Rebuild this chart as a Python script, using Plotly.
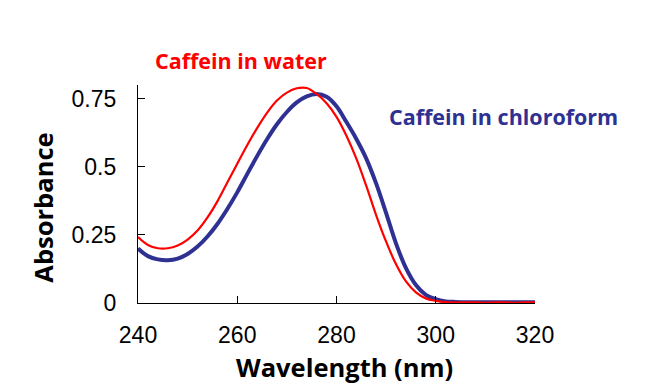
import plotly.graph_objects as go

wavelength = [240, 242, 244, 246, 248, 250, 252, 254, 256, 258, 260, 262, 264, 266, 268,
              270, 272, 274, 276, 278, 280, 282, 284, 286, 288, 290, 292, 294, 296, 298,
              300, 302, 304, 306, 308, 310, 312, 314, 316, 318, 320]

abs_water = [0.242, 0.213, 0.201, 0.201, 0.211, 0.233, 0.266, 0.314, 0.373, 0.442, 0.511,
             0.579, 0.642, 0.698, 0.743, 0.772, 0.788, 0.789, 0.767, 0.733, 0.683, 0.614,
             0.530, 0.430, 0.322, 0.225, 0.142, 0.079, 0.039, 0.017, 0.008, 0.003, 0.002,
             0.002, 0.002, 0.001, 0.002, 0.002, 0.001, 0.002, 0.002]

abs_chloroform = [0.200, 0.172, 0.160, 0.157, 0.163, 0.180, 0.207, 0.244, 0.290, 0.345,
                  0.406, 0.473, 0.539, 0.601, 0.656, 0.701, 0.736, 0.758, 0.767, 0.757,
                  0.722, 0.664, 0.602, 0.530, 0.438, 0.330, 0.218, 0.128, 0.066, 0.030,
                  0.014, 0.006, 0.004, 0.003, 0.003, 0.003, 0.003, 0.003, 0.003, 0.003,
                  0.003]

x_ticks = [240, 260, 280, 300, 320]
y_ticks = [0, 0.25, 0.5, 0.75]
y_tick_labels = ["0", "0.25", "0.5", "0.75"]

RED = "#FF0000"
BLUE = "#2E3192"

fig = go.Figure()
fig.add_trace(go.Scatter(x=wavelength, y=abs_chloroform, mode="lines",
                         line=dict(color=BLUE, width=4, shape="spline", smoothing=1.0),
                         name="Caffein in chloroform"))
fig.add_trace(go.Scatter(x=wavelength, y=abs_water, mode="lines",
                         line=dict(color=RED, width=2.2, shape="spline", smoothing=1.0),
                         name="Caffein in water"))

axis_font = dict(family="Liberation Sans, Arial, sans-serif", size=23, color="black")
title_font = dict(family="Open Sans, sans-serif", size=25.5, color="black")

fig.update_layout(
    width=672, height=391,
    margin=dict(l=130, r=145, t=77, b=96),
    paper_bgcolor="white", plot_bgcolor="white",
    showlegend=False,
    xaxis=dict(range=[240, 320], tickvals=x_ticks, ticks="inside", ticklen=7,
               tickcolor="black", tickwidth=1.3, showline=True, linecolor="black",
               linewidth=1.3, showgrid=False, zeroline=False, tickfont=axis_font,
               ticklabelstandoff=11),
    yaxis=dict(range=[0, 0.8], tickvals=y_ticks, ticktext=y_tick_labels, ticks="inside",
               ticklen=7, tickcolor="black", tickwidth=1.3, showline=True,
               linecolor="black", linewidth=1.3, showgrid=False, zeroline=False,
               tickfont=axis_font, ticklabelstandoff=16),
    annotations=[
        dict(text="<b>Wavelength (nm)</b>", xref="paper", yref="paper", x=0.519, y=-0.295,
             showarrow=False, font=title_font, xanchor="center", yanchor="middle"),
        dict(text="<b>Absorbance</b>", xref="paper", yref="paper", x=-0.238, y=0.435,
             showarrow=False, font=title_font, textangle=-90,
             xanchor="center", yanchor="middle"),
        dict(text="<b>Caffein in water</b>", xref="paper", yref="paper", x=0.259, y=1.114,
             showarrow=False, font=dict(family="Open Sans, sans-serif", size=21.5, color=RED),
             xanchor="center", yanchor="middle"),
        dict(text="<b>Caffein in chloroform</b>", xref="paper", yref="paper", x=0.921,
             y=0.857, showarrow=False,
             font=dict(family="Open Sans, sans-serif", size=21.5, color=BLUE),
             xanchor="center", yanchor="middle"),
    ],
)

fig.write_html("out.html")
